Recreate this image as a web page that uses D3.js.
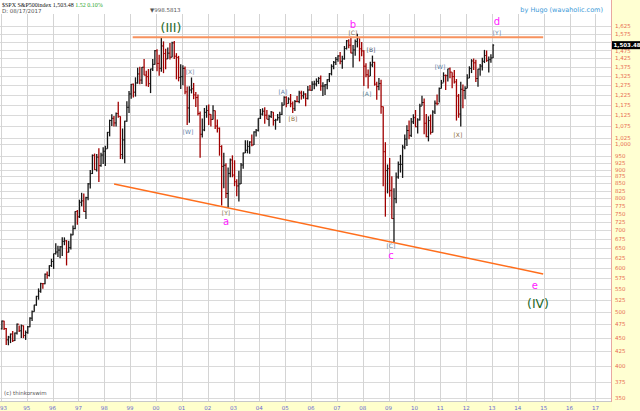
<!DOCTYPE html>
<html>
<head>
<meta charset="utf-8">
<script src="https://cdn.jsdelivr.net/npm/d3@7"></script>
<style>
  html, body { margin: 0; padding: 0; background: #fff; }
  svg { display: block; font-family: "DejaVu Sans", sans-serif; }
</style>
</head>
<body>
<div id="chart"></div>
<script>
// monthly bars, Jan 1994 .. Jan 2013 (S&P 500)
const startYear = 1994;
const prevClose = 466.5;

const highs = [
  482.9, 482.2, 468.0, 453.1, 457.6, 462.1, 459.3, 476.6, 473.1, 475.0, 473.0, 463.2,
  472.0, 489.2, 503.2, 515.0, 534.5, 551.1, 564.0, 563.3, 586.0, 590.7, 606.5, 622.9,
  636.2, 664.2, 656.9, 656.3, 680.3, 680.3, 672.7, 670.7, 690.9, 714.1, 758.0, 761.8,
  794.7, 817.7, 814.9, 804.6, 851.8, 898.7, 957.7, 961.3, 959.8, 983.1, 964.6, 986.3,
  992.7, 1051.2, 1105.7, 1130.5, 1122.1, 1138.5, 1190.6, 1121.3, 1066.1, 1100.9, 1193.0, 1244.9,
  1280.9, 1283.5, 1316.7, 1370.0, 1376.0, 1374.0, 1420.3, 1353.0, 1362.4, 1364.3, 1420.6, 1473.4,
  1478.0, 1444.6, 1552.9, 1527.2, 1481.5, 1488.9, 1517.3, 1525.2, 1530.1, 1454.8, 1438.5, 1389.1,
  1383.4, 1376.4, 1267.4, 1269.3, 1315.9, 1286.6, 1239.8, 1226.3, 1143.8, 1110.6, 1160.3, 1173.0,
  1176.6, 1130.2, 1173.0, 1147.8, 1106.6, 1070.7, 994.5, 965.0, 924.0, 907.4, 941.8, 954.3,
  935.1, 864.6, 895.9, 924.2, 965.4, 1015.3, 1015.4, 1011.0, 1040.3, 1053.8, 1063.7, 1112.0,
  1155.4, 1159.0, 1163.2, 1150.6, 1127.7, 1146.3, 1140.8, 1109.7, 1131.5, 1142.1, 1188.5, 1217.3,
  1217.8, 1212.4, 1229.1, 1192.2, 1199.6, 1219.6, 1245.2, 1245.9, 1243.1, 1233.3, 1270.6, 1275.8,
  1294.9, 1297.6, 1310.9, 1318.2, 1326.7, 1290.7, 1280.4, 1306.7, 1340.3, 1389.5, 1407.9, 1431.8,
  1441.6, 1461.6, 1438.9, 1498.0, 1535.6, 1540.6, 1555.9, 1503.9, 1538.7, 1576.1, 1545.8, 1523.6,
  1471.8, 1396.0, 1359.7, 1404.6, 1440.2, 1404.1, 1292.2, 1313.2, 1303.0, 1167.0, 1007.5, 918.9,
  943.9, 875.0, 833.0, 888.7, 930.2, 956.2, 996.7, 1039.5, 1080.2, 1101.4, 1113.7, 1130.4,
  1150.5, 1112.4, 1180.2, 1219.8, 1206.1, 1131.2, 1121.0, 1129.2, 1148.9, 1196.1, 1227.1, 1262.6,
  1302.7, 1344.1, 1332.3, 1364.6, 1370.6, 1345.2, 1356.5, 1307.4, 1229.3, 1293.0, 1277.6, 1269.4,
  1333.5, 1378.0, 1419.2, 1422.4, 1415.3, 1363.5, 1391.7, 1426.7, 1474.5, 1471.0, 1434.3, 1448.0,
  1509.9
];

const lows = [
  465.4, 464.3, 436.2, 435.9, 439.8, 441.6, 443.7, 455.5, 460.5, 449.1, 448.9, 445.6,
  457.2, 469.3, 481.7, 500.7, 513.0, 526.0, 541.3, 550.5, 560.4, 573.7, 578.9, 602.0,
  597.3, 633.8, 627.6, 624.1, 630.1, 658.6, 605.9, 639.4, 646.9, 686.1, 703.8, 716.7,
  737.0, 773.4, 756.1, 733.5, 793.2, 832.5, 883.5, 898.2, 892.3, 855.3, 910.4, 920.7,
  912.8, 980.8, 1032.0, 1076.7, 1074.4, 1074.7, 1114.3, 940.0, 939.2, 923.3, 1096.0, 1136.9,
  1205.5, 1211.9, 1216.0, 1282.6, 1279.3, 1281.4, 1328.5, 1268.7, 1265.4, 1233.7, 1352.0, 1387.4,
  1350.1, 1325.1, 1346.6, 1339.4, 1361.1, 1420.6, 1416.5, 1429.7, 1419.4, 1305.8, 1294.9, 1254.1,
  1274.6, 1228.4, 1081.2, 1092.0, 1232.0, 1203.0, 1165.5, 1124.9, 944.8, 1026.8, 1054.3, 1114.3,
  1081.7, 1074.4, 1106.7, 1063.5, 1049.0, 952.9, 775.7, 833.4, 800.2, 768.6, 872.1, 871.8,
  840.3, 806.3, 788.9, 847.9, 902.8, 963.6, 962.1, 960.8, 990.4, 996.0, 1031.2, 1053.4,
  1108.5, 1124.4, 1087.2, 1107.2, 1076.3, 1113.3, 1078.8, 1060.7, 1101.3, 1090.2, 1127.6, 1173.4,
  1163.8, 1181.0, 1163.7, 1136.2, 1146.2, 1188.3, 1183.6, 1201.1, 1205.4, 1168.2, 1201.1, 1246.6,
  1245.7, 1253.6, 1268.4, 1280.7, 1245.3, 1219.3, 1224.5, 1253.6, 1290.9, 1327.1, 1361.0, 1385.9,
  1404.0, 1389.4, 1364.0, 1416.4, 1476.7, 1484.2, 1454.3, 1370.6, 1439.3, 1489.6, 1406.1, 1435.7,
  1270.1, 1316.8, 1257.0, 1324.4, 1373.1, 1272.0, 1200.4, 1248.5, 1133.5, 839.8, 741.0, 815.7,
  804.5, 734.5, 666.8, 783.3, 866.1, 888.9, 869.3, 978.5, 992.0, 1020.2, 1029.4, 1085.9,
  1071.6, 1044.5, 1101.4, 1170.7, 1040.8, 1028.3, 1010.9, 1039.7, 1048.1, 1131.9, 1173.0, 1186.6,
  1257.6, 1289.1, 1249.1, 1294.7, 1311.8, 1258.1, 1282.9, 1101.5, 1114.2, 1074.8, 1158.7, 1202.4,
  1258.9, 1312.4, 1340.0, 1357.4, 1292.0, 1266.7, 1325.4, 1354.7, 1396.6, 1403.3, 1343.4, 1398.1,
  1426.2
];

const closes = [
  481.6, 467.1, 445.8, 450.9, 456.5, 444.3, 458.3, 475.5, 462.7, 472.4, 453.7, 459.3,
  470.4, 487.4, 500.7, 514.7, 533.4, 544.8, 562.1, 561.9, 584.4, 581.5, 605.4, 615.9,
  636.0, 640.4, 645.5, 654.2, 669.1, 670.6, 639.9, 652.0, 687.3, 705.3, 757.0, 740.7,
  786.2, 790.8, 757.1, 801.3, 848.3, 885.1, 954.3, 899.5, 947.3, 914.6, 955.4, 970.4,
  980.3, 1049.3, 1101.8, 1111.8, 1090.8, 1133.8, 1120.7, 957.3, 1017.0, 1098.7, 1163.6, 1229.2,
  1279.6, 1238.3, 1286.4, 1335.2, 1301.8, 1372.7, 1328.7, 1320.4, 1282.7, 1362.9, 1389.0, 1469.3,
  1394.5, 1366.4, 1498.6, 1452.4, 1420.6, 1454.6, 1430.8, 1517.7, 1436.5, 1429.4, 1315.2, 1320.3,
  1366.0, 1239.9, 1160.3, 1249.5, 1255.8, 1224.4, 1211.2, 1133.6, 1040.9, 1059.8, 1139.5, 1148.1,
  1130.2, 1106.7, 1147.4, 1076.9, 1067.1, 989.8, 911.6, 916.1, 815.3, 885.8, 936.3, 879.8,
  855.7, 841.2, 848.2, 916.9, 963.6, 974.5, 990.3, 1008.0, 996.0, 1050.7, 1058.2, 1111.9,
  1131.1, 1144.9, 1126.2, 1107.3, 1120.7, 1140.8, 1101.7, 1104.2, 1114.6, 1130.2, 1173.8, 1211.9,
  1181.3, 1203.6, 1180.6, 1156.9, 1191.5, 1191.3, 1234.2, 1220.3, 1228.8, 1207.0, 1249.5, 1248.3,
  1280.1, 1280.7, 1294.9, 1310.6, 1270.1, 1270.2, 1276.7, 1303.8, 1335.9, 1377.9, 1400.6, 1418.3,
  1438.2, 1406.8, 1420.9, 1482.4, 1530.6, 1503.4, 1455.3, 1474.0, 1526.8, 1549.4, 1481.1, 1468.4,
  1378.6, 1330.6, 1322.7, 1385.6, 1400.4, 1280.0, 1267.4, 1282.8, 1166.4, 968.8, 896.2, 903.3,
  825.9, 735.1, 797.9, 872.8, 919.1, 919.3, 987.5, 1020.6, 1057.1, 1036.2, 1095.6, 1115.1,
  1073.9, 1104.5, 1169.4, 1186.7, 1089.4, 1030.7, 1101.6, 1049.3, 1141.2, 1183.3, 1180.6, 1257.6,
  1286.1, 1327.2, 1325.8, 1363.6, 1345.2, 1320.6, 1292.3, 1218.9, 1131.4, 1253.3, 1247.0, 1257.6,
  1312.4, 1365.7, 1408.5, 1397.9, 1310.3, 1362.2, 1379.3, 1406.6, 1440.7, 1412.2, 1416.2, 1426.2,
  1503.48
];

// axis ticks
const yTicks = [350, 375, 400, 425, 450, 475, 500, 525, 550, 575, 600, 625, 650, 675, 700,
  725, 750, 775, 800, 825, 850, 875, 900, 925, 950, 1000, 1025, 1075, 1125, 1175, 1225,
  1275, 1325, 1375, 1425, 1475, 1525, 1575, 1625];
const xTickYears = [1994, 1995, 1996, 1997, 1998, 1999, 2000, 2001, 2002, 2003, 2004, 2005,
  2006, 2007, 2008, 2009, 2010, 2011, 2012, 2013, 2014, 2015, 2016, 2017];
const xTickLabels = ["93", "95", "96", "97", "98", "99", "00", "01", "02", "03", "04", "05",
  "06", "07", "08", "09", "10", "11", "12", "13", "14", "15", "16", "17"];
const lastPrice = 1503.48;

// drawn lines: [year, price]
const supportLine = [[1998.38, 848], [2014.98, 585]];
const resistLine = [[1999.1, 1552.9], [2014.98, 1552.9]];

// wave labels: [text, year, price, colour, size]
const waveLabels = [
  ["(III)", 2000.58, 1614, "#1f6a2a", 12.5],
  ["(IV)", 2014.78, 517, "#1f6a2a", 12.5],
  ["a", 2002.71, 726, "#ff22ff", 10],
  ["b", 2007.62, 1636, "#ff22ff", 10],
  ["c", 2009.09, 632, "#ff22ff", 10],
  ["d", 2013.19, 1656, "#ff22ff", 10],
  ["e", 2014.66, 557, "#ff22ff", 10],
  ["[X]", 2001.32, 1346, "#7c8ea4", 6],
  ["[W]", 2001.24, 1055, "#5f82a8", 6],
  ["[Y]", 2002.71, 754, "#8a7a4c", 6],
  ["[A]", 2004.91, 1244, "#5f82a8", 6],
  ["[B]", 2005.30, 1113, "#8a6a3c", 6],
  ["[C]", 2007.62, 1581, "#7a6a50", 6],
  ["[B]", 2008.32, 1474, "#4e5a74", 6],
  ["[A]", 2008.16, 1234, "#60889a", 6],
  ["[C]", 2009.09, 659, "#6c7e96", 6],
  ["[W]", 2010.99, 1374, "#5f82a8", 6],
  ["[X]", 2011.68, 1042, "#8a6a3c", 6],
  ["[Y]", 2013.19, 1587, "#5f82a8", 6]
];

const W = 640, H = 411;
const plotTop = 14, plotBottom = 402, plotRight = 612;

const svg = d3.select("#chart").append("svg")
  .attr("width", W).attr("height", H);

const x = d3.scaleLinear().domain([1995, 2017]).range([26.7, 595.4]);
const y = d3.scaleLog().domain([1000, 500]).range([144, 312]);

// backgrounds
svg.append("rect").attr("x", 0).attr("y", 0).attr("width", W).attr("height", H).attr("fill", "#fff");
svg.append("rect").attr("x", plotRight).attr("y", 0).attr("width", W - plotRight).attr("height", H)
  .attr("fill", "#ffffd2");
svg.append("rect").attr("x", 0).attr("y", plotBottom).attr("width", plotRight).attr("height", H - plotBottom)
  .attr("fill", "#ffffcc");

const plot = svg.append("g");

// grid
plot.selectAll(".hgrid").data(yTicks).join("line")
  .attr("x1", 0).attr("x2", plotRight)
  .attr("y1", d => Math.round(y(d)) + 0.5).attr("y2", d => Math.round(y(d)) + 0.5)
  .attr("stroke", "#dadada").attr("stroke-width", 1);

plot.selectAll(".vgrid").data(xTickYears).join("line")
  .attr("x1", d => Math.round(x(d)) + 0.5).attr("x2", d => Math.round(x(d)) + 0.5)
  .attr("y1", plotTop).attr("y2", plotBottom)
  .attr("stroke", "#d4d4d4").attr("stroke-width", 1);

svg.append("line").attr("x1", 0).attr("x2", plotRight).attr("y1", plotBottom - 0.5).attr("y2", plotBottom - 0.5)
  .attr("stroke", "#c8c8c8");
svg.append("line").attr("x1", plotRight - 0.5).attr("x2", plotRight - 0.5).attr("y1", 0).attr("y2", plotBottom)
  .attr("stroke", "#e8a8a0");

// price bars
const bars = closes.map((c, i) => ({
  t: startYear + (i + 0.5) / 12,
  o: i === 0 ? prevClose : closes[i - 1],
  h: highs[i], l: lows[i], c: c
}));

const barG = plot.selectAll(".bar").data(bars).join("g")
  .attr("stroke", d => d.c >= d.o ? "#151515" : "#a00000");

barG.append("line")
  .attr("x1", d => x(d.t)).attr("x2", d => x(d.t))
  .attr("y1", d => y(d.h)).attr("y2", d => y(d.l))
  .attr("stroke-width", 1.3);
barG.append("line")
  .attr("x1", d => x(d.t) - 1.1).attr("x2", d => x(d.t))
  .attr("y1", d => y(d.o)).attr("y2", d => y(d.o))
  .attr("stroke-width", 1);
barG.append("line")
  .attr("x1", d => x(d.t)).attr("x2", d => x(d.t) + 1.1)
  .attr("y1", d => y(d.c)).attr("y2", d => y(d.c))
  .attr("stroke-width", 1);

// trend lines
const line = d3.line().x(d => x(d[0])).y(d => y(d[1]));
plot.append("path").datum(resistLine).attr("d", line)
  .attr("fill", "none").attr("stroke", "#f7925e").attr("stroke-width", 2);
plot.append("path").datum(supportLine).attr("d", line)
  .attr("fill", "none").attr("stroke", "#ff6e1c").attr("stroke-width", 1.5);

// wave labels
plot.selectAll(".wave").data(waveLabels).join("text")
  .attr("x", d => x(d[1])).attr("y", d => y(d[2]))
  .attr("text-anchor", "middle").attr("dominant-baseline", "central")
  .attr("fill", d => d[3]).attr("font-size", d => d[4] + "px")
  .text(d => d[0]);

// right axis (labels under the last-price box are left out)
const boxY = y(lastPrice);
svg.selectAll(".ylab").data(yTicks.filter(v => Math.abs(y(v) - boxY) > 4)).join("text")
  .attr("x", 615).attr("y", d => y(d) + (Math.abs(y(d) - boxY) < 8 ? 1.5 : 0))
  .attr("dominant-baseline", "central")
  .attr("font-size", "5.5px").attr("fill", "#e86c50")
  .text(d => d3.format(",")(d));

svg.append("rect").attr("x", plotRight).attr("y", boxY - 4).attr("width", W - plotRight).attr("height", 8)
  .attr("fill", "#000");
svg.append("text").attr("x", 613.5).attr("y", boxY)
  .attr("dominant-baseline", "central").attr("font-size", "5.5px").attr("font-weight", "bold")
  .attr("fill", "#fff").text(d3.format(",.2f")(lastPrice));

// bottom axis
svg.selectAll(".xlab").data(xTickYears).join("text")
  .attr("x", (d, i) => i === 0 ? 0 : x(d))
  .attr("y", 407.5)
  .attr("text-anchor", (d, i) => i === 0 ? "start" : "middle")
  .attr("dominant-baseline", "central")
  .attr("font-size", "5.5px").attr("fill", "#6a6ad0")
  .text((d, i) => xTickLabels[i]);

// header and notes
const hdr = svg.append("text").attr("x", 2).attr("y", 7).attr("font-size", "6px")
  .attr("font-family", "'Liberation Serif', serif");
hdr.append("tspan").attr("fill", "#111").text("$SPX S&P500index  1,503.48  ");
hdr.append("tspan").attr("fill", "#2aa52a").text("1.52  0.10%");

svg.append("text").attr("x", 2).attr("y", 13).attr("font-size", "5.5px").attr("fill", "#555")
  .text("D: 08/17/2017");
svg.append("text").attr("x", 150).attr("y", 12).attr("font-size", "5.5px").attr("fill", "#555")
  .text("▼998.5813");
svg.append("text").attr("x", 603).attr("y", 12).attr("text-anchor", "end")
  .attr("font-size", "6.5px").attr("fill", "#3d9ad8")
  .text("by Hugo (wavaholic.com)");
svg.append("text").attr("x", 4).attr("y", 395).attr("font-size", "5.5px").attr("fill", "#555")
  .text("(c) thinkorswim");
</script>
</body>
</html>
